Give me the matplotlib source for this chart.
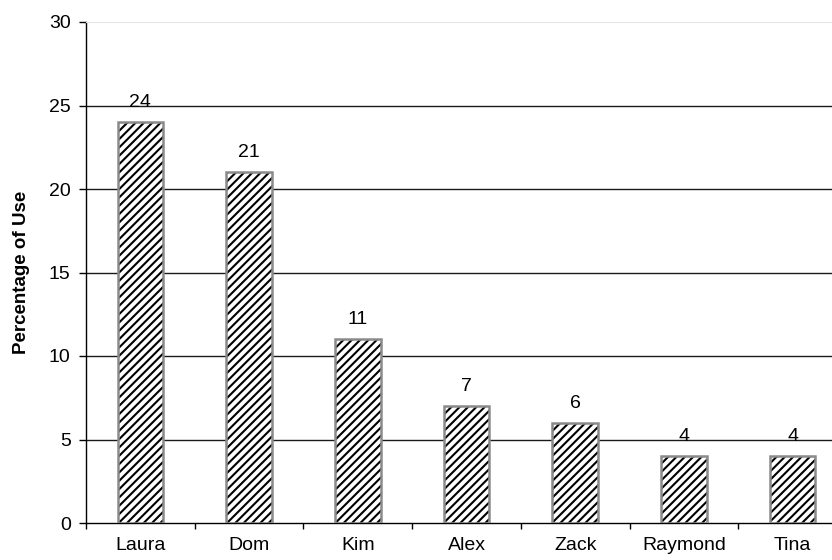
import numpy as np
import matplotlib.pyplot as plt

plt.rcParams['font.family'] = ['Liberation Sans', 'DejaVu Sans']
plt.rcParams['hatch.linewidth'] = 1.5
plt.rcParams['hatch.color'] = 'black'

names = ['Laura', 'Dom', 'Kim', 'Alex', 'Zack', 'Raymond', 'Tina']
usage = [24, 21, 11, 7, 6, 4, 4]
y_ticks = [0, 5, 10, 15, 20, 25, 30]

fig = plt.figure(figsize=(8.32, 5.6), dpi=100)
# plot area runs past the right edge of the picture, as in the reference
ax = fig.add_axes([86 / 832, 37 / 560, 761 / 832, 501 / 560])

x = np.arange(len(names))
ax.set_axisbelow(True)
for yv in y_ticks[1:-1]:
    ax.axhline(yv, color='#1a1a1a', linewidth=1.0, zorder=0)

ax.bar(x, usage, width=0.42, color='white', edgecolor='black',
       hatch='////', linewidth=0, zorder=2)
ax.bar(x, usage, width=0.42, fill=False, edgecolor='#8a8a8a',
       linewidth=1.8, zorder=3)

for xi, v in zip(x, usage):
    ax.annotate(str(v), (xi, v), xytext=(0, 11), textcoords='offset points',
                ha='center', va='baseline', fontsize=14)

ax.set_xlim(-0.5, len(names) - 0.5)
ax.set_ylim(0, 30)
ax.set_yticks(y_ticks)
ax.set_xticks(x)
ax.set_xticklabels(names)
ax.set_xticks(np.arange(len(names) + 1) - 0.5, minor=True)
ax.tick_params(axis='x', which='major', length=0, pad=10, labelsize=14)
ax.tick_params(axis='x', which='minor', length=4, width=1.0, direction='out')
ax.tick_params(axis='y', length=5, width=1.0, pad=6, labelsize=14)

for side in ['left', 'bottom']:
    ax.spines[side].set_color('black')
    ax.spines[side].set_linewidth(1.0)
ax.spines['top'].set_color('#e6e6e6')
ax.spines['right'].set_visible(False)

ax.set_ylabel('Percentage of Use', fontsize=13.5, fontweight='bold', labelpad=14)

fig.savefig('out.png', dpi=100)
